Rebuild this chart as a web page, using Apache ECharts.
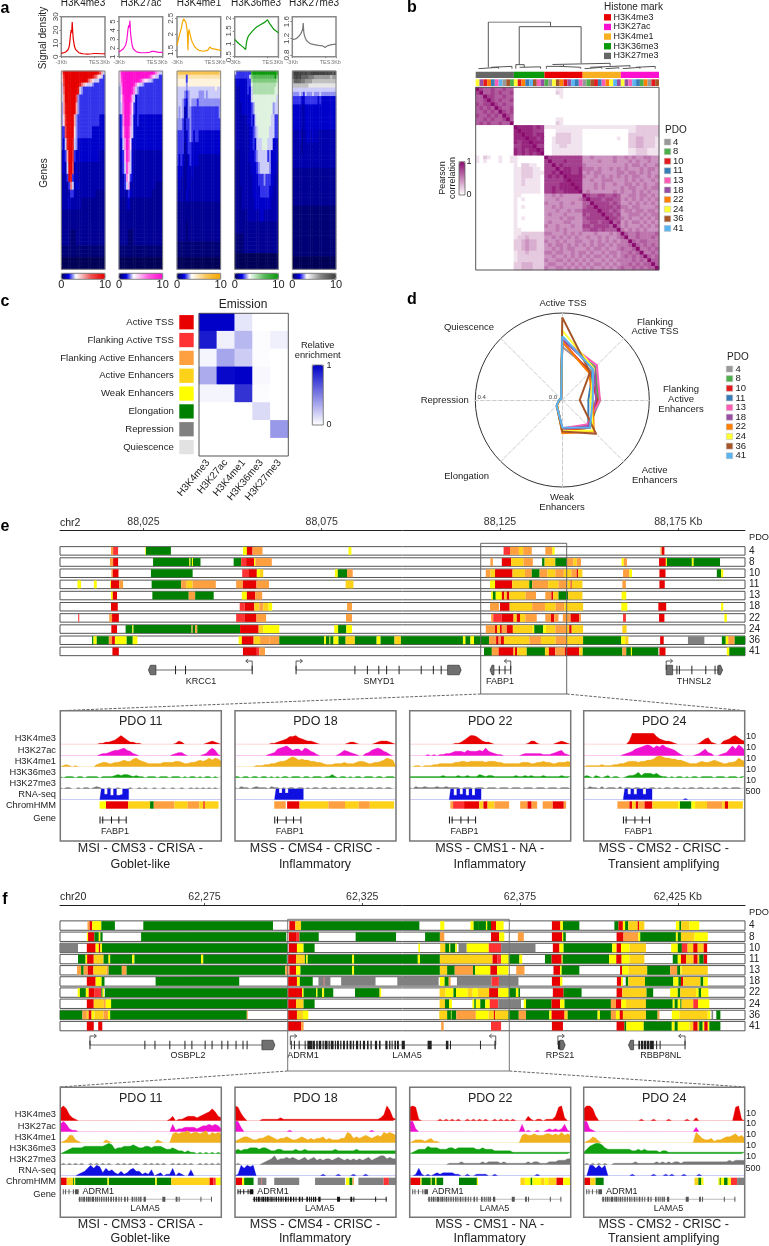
<!DOCTYPE html>
<html><head><meta charset="utf-8">
<style>html,body{margin:0;padding:0;background:#fff}#c{width:769px;height:1246px}</style>
<script src="https://cdn.jsdelivr.net/npm/echarts@6/dist/echarts.min.js"></script>
</head><body><div id="c"></div>
<script>
// ---------- Panel a ----------
const marks=['H3K4me3','H3K27ac','H3K4me1','H3K36me3','H3K27me3'];
const markColors=['#e60000','#ff10d0','#f5a800','#0a9a0a','#404040'];
const profileX=[0,2,4,5,6,7,7.5,8,8.5,9,9.5,10,10.5,11,12,13,14,16,18,20,24,28,30,32,36,40];
const profileK4me3=[2.5,3,3.5,4,5,7,9,13,17,20,18,26,18,13,8,5.5,4,3,2.5,2.2,2,2.2,2.4,2.4,2.2,2.2];
const profileK27ac=[1.55,1.7,1.9,2,2.3,2.8,3.3,3.9,4.3,4.6,4.3,5.1,3.8,3.2,2.3,1.9,1.7,1.55,1.5,1.45,1.45,1.5,1.6,1.6,1.5,1.5];
const profileK4me1=[1.65,1.95,2.2,2.38,2.48,2.5,2.45,2.38,2.3,2.2,2.05,1.5,2.05,2.15,2.0,1.85,1.75,1.62,1.55,1.5,1.47,1.5,1.6,1.55,1.53,1.5];
const profileK36me3=[1.17,1.08,1.0,.97,.93,.9,.88,.86,.84,.82,.8,.78,.95,1.1,1.25,1.33,1.38,1.48,1.57,1.65,1.75,1.85,1.93,1.78,1.55,1.43];
const profileK27me3=[1.17,1.18,1.2,1.22,1.25,1.28,1.3,1.32,1.35,1.38,1.42,1.57,1.35,1.28,1.2,1.15,1.12,1.08,1.06,1.05,1.03,1.02,.98,1.02,1.05,1.06];
const profileTicks=[[0,10,20,30],[1,2,3,4,5],[1.5,2,2.5],[.5,1,1.5,2],[.8,1.2,1.6]];
const profileRange=[[0,30],[1,5.55],[1.3,2.55],[.5,2.05],[.76,1.72]];
// rows of the gene heatmaps: [row count, one digit per column]; x,y,z,w are steps between 0, 1, 2 and 3
const heatK4me3=[[1,"59aaaaaaaaaaaaaaaaaa9753"],[1,"48aaaaaaaaaaaaaaa9764432"],[1,"47aaaaaaaaaaaa9654333222"],[1,"37aaaaaaaa9654333w222222"],[2,"36aaaaaaa93w222222222222"],[2,"35aaaaaa7w22222222222222"],[3,"w59aaaaa5w22222222222222"],[3,"w48aaaa5w222222222222zzz"],[3,"227aaaa4w22222222zzzzzzz"],[3,"2z39aa93wzzzzzzzzzzzzzzz"],[3,"zz25aa82zzzzzzzzzzzzz111"],[3,"zz13aa71z111111111111111"],[2,"1112a921z111111111111111"],[2,"11112631zz11111111111111"],[2,"1111122111111111111yyyyy"],[3,"1111z111111yyyyyyyyyyyyy"],[5,"yyyyyyyyyyyyyyyyyyyyyyyy"],[4,"yyyyyxxxyyyyyyyyyyyyyyyy"],[3,"xxxxxxxxxxxxxxxxxxxxxxxx"],[3,"000000000000000000000000"]];
const heatK27ac=[[1,"49aaaaaaaaaaaaaaaaa96533"],[1,"48aaaaaaaaaaaaaa97543322"],[1,"47aaaaaaaaa9754433w22222"],[1,"36aaaaaa96433w2222222222"],[2,"w5aaaaa963w2222222222222"],[2,"w48aaa953z22222222222222"],[3,"w37aaa742z22222222222222"],[3,"z26aaa63zz2zzzzzzzzzzzzz"],[3,"z259a953zzzzzzzzzzzzzzzz"],[3,"zz36a84zzzzzzzzzzzzzzzzz"],[3,"1z25973z1111111111111111"],[3,"1123853z1111111111111111"],[2,"1112642z1111111111111111"],[2,"11123511111111111111yyyy"],[2,"111112z11111111111yyyyyy"],[3,"1yyy1zyyyyyyyyyyyyyyyyyy"],[5,"yyyyyyyyyyyyyyyyyyyyyyyy"],[4,"yyyyyxxxyyyyyyyyyyyyyyyy"],[3,"xxxxxxxxxxxxxxxxxxxxxxxx"],[3,"000000000000000000000000"]];
const heatK4me1=[[1,"677777777777777777777776"],[1,"555552555555555555555555"],[1,"444442444444444444444444"],[1,"44444w444444444444444444"],[1,"33333w333333333333333433"],[2,"3333w2w33333www3w3333333"],[2,"333w2zw3www2wwwwwwwwwwww"],[3,"3w3w1zww222222222222222w"],[3,"www2122w2222222222222222"],[3,"22221z2w2z22zzzzzzzzzzzz"],[3,"2222yz22zzzzzzzzzzzzzzzz"],[3,"2z2z1yz2zzzz111111111111"],[3,"zzz1y1z1z111111111111111"],[3,"1z11y1z11111111111111111"],[3,"1111yz111111111111111111"],[5,"yyyyyyyyyyyyyyyyyyyyyyyy"],[5,"yyyyyxyyyyyyyyyyyyyyyyyy"],[4,"xxxxxxxxxxxxxxxxxxxxxxxx"],[3,"000000000000000000000000"]];
const heatK36me3=[[1,"3222222228aaaaaaaaaaaaa8"],[1,"2222222236777777777777a6"],[1,"1zzzzzz22566666666666665"],[1,"1zzzzzz22455555555555554"],[2,"111zzzz2z355555555555544"],[2,"111zzzzzz344444444444443"],[3,"1111zzzzz2w4444444444w33"],[3,"1111111zz2z3444444443322"],[3,"11111111zz2w344444433322"],[3,"11111111zz2z333444333zzz"],[3,"yyy11111zzz2w333332wzzzz"],[3,"yyy111111zzz2w33333wzzz1"],[3,"yyy1111111zzz222w222zz11"],[3,"yyyy111111zzzz22222zz111"],[3,"yyyy1111111zzzzzzzzz1111"],[3,"yyyyyyy1111111zz11111111"],[3,"yyyyyyyyyyyyyyyyyyyyyyyy"],[5,"xxxxxyyyyyyyyyyyyyyyyyyy"],[4,"000000000000000000000000"]];
const heatK27me3=[[1,"8aaaaa9a99aaaaaaaa9a9a8a"],[1,"89a9a8888777666666666566"],[1,"688887766665555555555555"],[1,"555555555444444444444444"],[1,"333333333333333333333333"],[1,"wwww3w23www3www3wwwwwwww"],[2,"22222zz2222222z2zzzzzzzz"],[3,"zzzzz11zzzzzzzzzzzzzzzzz"],[3,"zzzzz11zzzzzzzzzzzzzzzzz"],[3,"1111zy11zz1z1z1111111111"],[3,"11111y111111111111111111"],[3,"111111111111111111111111"],[4,"yyyyyyyyyyyyyyyyyyyyyyyy"],[5,"yyyyyyyyyyyyyyyyyyyyyyyy"],[6,"xxxxxxxxxxxxxxxxxxxxxxxx"],[6,"xxxxxxxxxxxxxxxxxxxxxxxx"],[3,"000000000000000000000000"]];

// ---------- Panel b ----------
const pdos=['4','8','10','11','13','18','22','24','36','41'];
const pdoColors=['#999999','#4daf4a','#e41a1c','#377eb8','#ff5cb5','#984ea3','#ff7f00','#ffff33','#a65628','#5ab4f0'];
const histoneSizes=[10,8,10,10,10];
const histoneOrder=[4,3,0,2,1];
const pdoOrder=['24','18','10','22','11','13','41','4','36','8','24','10','22','11','41','36','13','18','8','4','24','36','22','10','18','41','11','13','4','8','36','10','11','13','22','24','41','18','24','18','13','41','11','8','22','4','10','36'];
const correlation=[
"9766766766 00000000 0001100000 0000000000 0000000000",
"7966767667 00000000 0002100000 0000000000 0000000000",
"6697766766 00000000 0000100000 0000000000 0000000000",
"6679767667 00000000 0000000000 0000000000 0000000000",
"7677976766 00000000 0000000000 0000000000 0000000000",
"6767697667 00000000 0000000000 0000000000 0000000000",
"6676769767 00000000 0000000000 0000000000 0000000000",
"7667676976 00000000 0000000000 0000000000 0000000000",
"6676766796 00000000 0001100000 0000000000 0000000000",
"6767667669 00000000 0002100000 0000000000 0000000000",
"0000000000 98888787 1111111111 1111111111 1111222222",
"0000000000 89888777 0001111111 0000000000 0011222222",
"0000000000 88988788 0002222111 0000000000 0022222222",
"0000000000 88898878 0012222111 0000000001 0022332221",
"0000000000 87889888 0012222111 0000000000 0022332221",
"0000000000 77888977 0011221111 0000000000 0022332221",
"0000000000 87878898 0011111111 0000000000 0011222111",
"0000000000 87878789 0011111111 0000000000 0011222111",
"1021001001 10000000 9777777777 4454444454 4545445544",
"1010001001 10000000 7977787777 4444544454 4454544544",
"0000000000 10221100 7797877777 5444444444 4545545445",
"0000000000 11222110 7779788778 5554544545 4544454554",
"0000000000 11222111 7787988778 4545544445 5455454544",
"0000000000 11222110 7878798888 5445454545 4545544545",
"0000000000 11211110 7777789888 4454455544 4545454454",
"0000000000 11211110 7777888988 4445454454 4554545445",
"0000000000 11111110 7787888898 4445454444 5455445455",
"0000000000 11111110 7787788889 4544444454 5445454544",
"0000000000 11000000 4454544444 9766776676 4455455454",
"0000000000 10100000 4445444445 7977767766 4545454545",
"0000000000 10000000 5444544544 6697777676 4454545454",
"0000000000 10100000 4454544444 6779777767 5545544445",
"0000000000 10000000 4445445455 7777977676 4554554554",
"0000000000 10000000 4544454444 7677797767 4455545455",
"0000000000 10100000 4444545544 6777779776 5454454545",
"0000000000 10000000 4544455444 6677677967 4545545454",
"0000000000 10000000 5445444544 7767777696 4544454545",
"0000000000 11000000 4445454444 6677676669 5454545444",
"0000000000 11222222 5544454545 4445444545 9655655556",
"0000000000 12232222 4454545454 4544545445 6955655565",
"0000000000 22343322 5445454455 4454545454 5596566555",
"0000000000 22343322 4545545454 5454554545 5569656565",
"0000000000 22343322 4454545544 4545545445 6556955656",
"0000000000 12232222 5545544545 5454454554 5565695565",
"0000000000 12222222 4454454545 4545545454 5656569656",
"0000000000 12222222 5445545454 5454454545 5556565966",
"0000000000 22333222 4554454545 4545545454 5565656696",
"0000000000 22333222 5445545454 5454454545 6556565669"];
const dendrogram=[[3.3,.03],[3.3,1],[19.6,1],[19.6,.9],null,[11.4,.08],[11.4,.9],[27.6,.9],[27.6,.116],null,[20.1,.09],[20.1,.116],[35.2,.116],[35.2,.065],null,[30,.03],[30,.065],[40.4,.065],[40.4,.03],null,[.7,0],[.7,.03],[6,.03],[6,0],null,[4,.03],[4,.05],[9.5,.05],[9.5,0],null,[10.5,0],[10.5,.087],[12.7,.087],[12.7,.03],null,[11.5,.03],[11.5,.04],[17,.04],[17,0],null,[18.5,0],[18.5,.05],[23,.05],[23,.09],null,[22,.05],[22,.03],[27.5,.03],[27.5,0],null,[28.5,0],[28.5,.03],[33,.03],[33,0],null,[34,0],[34,.02],[37.5,.02],[37.5,0],null,[38.5,0],[38.5,.03],[43,.03],[43,0],null,[42,.03],[42,.05],[47,.05],[47,0]];

// ---------- Panel c ----------
const stateNames=['Active TSS','Flanking Active TSS','Flanking Active Enhancers','Active Enhancers','Weak Enhancers','Elongation','Repression','Quiescence'];
const stateColors=['#e80000','#ff3333','#ffa040','#ffd21a','#ffff00','#008000','#808080','#e2e2e2'];
const emission=[[1,1,.1,0,0],[.9,.06,.28,.01,.06],[.04,.35,.2,.01,0],[.33,.97,1,.03,0],[.04,.04,.8,.01,0],[0,0,0,.14,0],[0,0,0,0,.4],[0,0,0,0,0]];

// ---------- Panel d (order: Active TSS, Flanking TSS, Flanking Enh., Active Enh., Weak Enh., Elongation, Repression, Quiescence) ----------
const radarAxes=['Active TSS','Flanking Active TSS','Flanking Active Enhancers','Active Enhancers','Weak Enhancers','Elongation','Repression','Quiescence'];
const radar4=[.245,.19,.175,.17,.135,.035,.014,.008];
const radar8=[.276,.215,.165,.18,.14,.035,.014,.008];
const radar10=[.268,.18,.16,.18,.14,.035,.014,.008];
const radar11=[.29,.2,.12,.169,.13,.035,.014,.008];
const radar13=[.28,.225,.173,.16,.13,.035,.014,.008];
const radar18=[.276,.21,.155,.17,.135,.035,.014,.008];
const radar22=[.268,.175,.14,.205,.153,.035,.014,.008];
const radar24=[.319,.205,.13,.2,.14,.035,.014,.008];
const radar36=[.38,.18,.08,.219,.145,.037,.014,.008];
const radar41=[.294,.2,.14,.18,.126,.037,.016,.008];
const radarSeries=[radar4,radar8,radar10,radar11,radar13,radar18,radar22,radar24,radar36,radar41];

// ---------- Panels e, f: ChromHMM segments, kb (e: minus 88,000; f: minus 62,200). R F O Y L G K = states 0..6 ----------
const eRow4="15.9 16.5 O,16.5 17.9 F,25.5 25.7 L,25.7 32.7 G,52.9 54 L,54 55.6 R,55.6 58.4 O,82.5 83.3 L,126 127.8 F,127.8 130.3 O,130.3 131.5 Y,131.5 133.9 O,137.7 139.7 O,139.7 140.3 L,170 170.4 O,170.4 171.1 R";
const eRow8="15.6 16.5 O,16.5 17.9 R,27.7 37.9 G,37.9 38.2 L,38.2 38.6 G,38.6 38.9 L,38.9 41 G,50.3 52.4 G,52.4 53.8 F,53.8 56 R,56 56.4 L,56.4 61 O,122.3 123 O,125.5 128.1 R,128.1 131.6 Y,131.6 134.2 O,136.8 137.5 G,137.5 140.5 Y,140.5 143.8 G,143.8 145.6 O,145.6 146.5 Y,146.5 147.7 O,159.1 159.7 L,159.7 160.6 O,169.6 171.5 R,171.5 171.8 L,171.8 178.8 G,178.8 179.3 L,179.3 186.7 G";
const eRow10="16 16.4 O,16.4 18 R,27.1 38.8 G,52.7 54.4 F,54.4 56.8 R,56.8 57.7 L,57.7 58.6 Y,78.7 79.5 L,79.5 82.1 G,82.1 83.7 O,121 122.3 O,122.3 123.6 Y,123.6 128.5 R,128.5 132 Y,132 133.9 O,133.9 136.1 G,136.1 138.3 O,138.3 140.5 Y,140.5 142.9 O,142.9 145 Y,145 146.5 O,146.5 146.9 R,146.9 148.1 Y,159.5 161.3 O,161.3 162 L,169.7 171.4 R,185.8 187 G,187 187.6 L";
const eRow11="6.5 7.5 L,11.1 11.9 L,15.7 15.9 L,15.9 18.2 R,18.2 19.3 O,27.3 35.6 G,35.6 37.1 O,37.1 38.8 Y,38.8 45.3 O,51 52.9 O,52.9 56.7 R,56.7 60.2 O,81.7 83.9 Y,122.2 123.6 L,123.6 128.4 R,128.4 133.2 Y,133.2 134 G,134 138.5 O,138.5 141.4 Y,141.4 143.9 O,143.9 144.8 Y,144.8 145.1 R,145.1 148.1 Y,159.3 160.3 O,169.7 171.2 R";
const eRow13="15.9 16.4 L,16.4 17.6 R,27.5 37.7 G,37.7 39.5 O,39.5 44.7 G,52.6 54 L,54 56.3 R,56.3 58.3 O,122.5 123 L,123 123.8 G,123.8 125.5 L,125.5 126.2 R,126.2 126.9 Y,126.9 127.6 R,127.6 132.2 Y,132.2 135.1 O,137.7 139.4 O,139.4 139.9 R,139.9 141.4 Y,141.4 144.1 G,144.1 148.1 Y,159.1 160.4 L";
const eRow18="15.9 17.8 R,52 53.4 F,53.4 56.1 R,56.1 57.5 Y,57.5 58.6 O,58.6 60.1 Y,60.1 61.1 L,82.1 83.5 O,122.2 124.7 O,125 127.7 R,127.7 134 Y,134 137.6 O,137.6 140.6 Y,140.6 143 O,143 148.3 Y,159 160.7 L,169.4 171.6 R,187 187.6 L";
const eRow22="6.7 7 F,15.4 16.2 O,16.2 18.1 R,51 53.3 F,53.3 56.7 R,56.7 59.4 O,81.8 83.5 O,122.5 123.1 O,123.1 125.5 F,125.5 128.8 R,128.8 129.7 Y,129.7 130.6 R,130.6 132.1 Y,132.1 135.3 O,137.7 139.3 O,139.3 140.2 R,140.2 141.4 O,142.6 144.8 O,144.8 147.2 R,147.2 147.7 O,159.5 160.3 F,169.6 171.1 R,187.9 188.6 L";
const eRow24="16 17.6 R,20 21.9 G,21.9 22.2 L,22.2 38.5 G,38.5 38.8 O,38.8 39.5 G,39.5 40.1 O,40.1 52.1 G,52.1 57.3 R,57.3 58.6 Y,58.6 63.1 L,78.5 79.6 L,79.6 81.9 G,81.9 83.5 L,121 123.6 O,123.6 124.2 R,124.2 125 Y,125 125.5 R,125.5 126.9 O,126.9 128.6 R,128.6 134.2 Y,134.2 134.6 L,134.6 137.1 G,137.1 137.9 L,137.9 140.5 Y,140.5 143.8 O,143.8 144.4 Y,144.4 145.1 R,145.1 148.3 Y,159.3 160.5 Y";
const eRow36="10.6 11 G,11 11.9 L,11.9 15.3 G,15.3 16.2 O,16.2 17 R,17 20.3 L,20.3 22 G,22 23.3 L,51.7 52.6 L,52.6 55.9 R,55.9 57.7 Y,57.7 60.3 O,60.3 63.1 O,63.1 75.7 G,75.7 76.2 L,76.2 77.2 G,77.2 77.4 L,77.4 78.3 G,78.3 79.7 L,79.7 81.7 G,81.7 84.3 Y,84.3 90.4 G,90.4 91.5 L,91.5 95.4 G,95.4 97.2 Y,97.2 114.6 G,114.6 115.3 L,115.3 116.7 G,116.7 117.7 L,117.7 121.9 G,121.9 123.9 O,123.9 124.6 R,124.6 125.2 O,125.2 126.1 R,126.1 133.2 Y,133.2 136.5 O,136.5 140.6 Y,140.6 143.7 O,143.7 148.3 Y,148.3 159 G,159 160.1 L,160.1 161 Y,169.9 170.9 R,177.7 182.3 K,187.2 188.3 G,188.3 189 L,189 190.8 O,190.8 193.7 G";
const eRow41="16.3 18.1 R,52.9 56.8 R,56.8 57.5 F,57.5 59.1 O,120.5 122.7 G,122.7 124.6 O,124.6 128.8 R,128.8 129.2 Y,129.2 129.8 R,129.8 132.5 Y,132.5 137.6 G,137.6 138.7 Y,138.7 140.5 R,140.5 143.2 O,143.2 147.2 R,147.2 148.2 Y,148.2 159.3 G,159.3 160.4 O,160.4 161.7 G,161.7 162 L,162 169.4 G,169.7 171.4 R,188.6 189.3 L,189.3 193.7 G";
const fRow4="37.9 38.6 O,38.6 39.4 R,39.4 42.3 L,42.3 46.6 G,55.6 96.7 G,101.9 103.8 R,103.8 105.6 Y,105.6 143.1 G,149.7 151 L,159.3 160.3 L,160.3 161.7 G,161.7 164.2 G,164.2 164.6 L,164.6 165.8 G,165.8 167.4 R,167.4 169.8 L,185.1 187.8 R,187.8 188.6 L,188.6 193.8 G,204.9 206.2 G,206.2 207.6 R,207.6 208.3 L,208.3 209.3 G,209.3 212.3 Y,212.3 212.7 R,212.7 214.4 Y,224.4 225.5 L,225.5 226.1 G,226.1 228.7 Y,228.7 231.8 L";
const fRow8="37.7 38.1 L,38.1 40.1 R,40.1 41.5 G,41.5 42 L,42 42.7 G,54.9 100.9 G,101.7 104 R,104 105.1 F,105.1 111.2 G,122.9 135.7 G,144.9 149.6 G,149.6 151 O,165.8 168.4 R,168.4 170 L,174.3 176.2 O,185.1 188.3 R,188.3 188.7 L,188.7 189.5 G,205.6 207.8 R,207.8 212.5 O,212.5 213.1 L,213.1 224.4 G,224.4 225 L,225 226 G,226 230.3 Y,230.3 234.5 L";
const fRow10="29.2 34.9 K,37.7 40.5 R,40.5 41.5 L,41.5 42 R,42 42.5 L,42.5 101.4 G,101.7 104.3 R,104.3 106.4 L,106.4 109.9 G,142.8 143.3 L,149.7 151.3 Y,151.3 152.6 G,152.6 152.9 L,152.9 154.5 G,154.5 155 L,155.5 158.1 K,158.1 165.1 L,165.1 169 F,169 179.9 K,185.4 187.5 R,187.5 188.8 L,188.8 204.2 G,204.2 205.6 L,205.6 207 R,207 209.7 L,209.7 214.9 Y,222.9 225 L,225 226.3 G,226.3 228.1 F,228.1 229.9 Y,229.9 231.3 R,231.3 233.2 Y,233.2 234.3 R";
const fRow11="34.9 37.3 G,37.3 37.8 L,37.8 39.9 R,39.9 43 Y,43 44.6 G,44.6 45.1 L,45.1 52.1 G,52.1 52.8 L,52.8 73.9 G,73.9 74.6 L,74.6 101.1 G,101.5 104 R,104 106.8 Y,106.8 107.2 G,107.2 107.7 L,107.7 121.8 G,121.8 122.4 L,122.4 142.6 G,142.6 143.3 L,143.3 149.6 G,149.6 166.3 Y,166.3 167.9 R,167.9 169 F,169 171.4 L,171.4 174.8 G,174.8 175.7 L,182.9 185 G,185 188.2 R,188.2 188.5 L,188.5 203.2 G,203.2 205.5 L,205.5 207.2 R,207.2 209.7 L,209.7 214.4 Y,223.4 225 G,225 226 L,226 227.6 R,227.6 230 Y,230 231.3 R,231.3 231.8 Y,231.8 233.2 G,233.2 234.3 R";
const fRow13="34.6 35.9 O,35.9 36.7 G,36.7 38 O,38 39.8 R,39.8 44 Y,44 44.6 O,44.6 48.8 G,48.8 50.3 O,50.3 100.6 G,100.6 101.7 O,101.9 104 R,104 105.4 L,105.4 121.8 G,121.8 122.4 L,122.4 149.6 G,149.6 151.9 Y,151.9 154.3 G,154.3 160.1 O,160.1 160.8 G,160.8 165.6 L,165.6 167.7 R,167.7 171.3 L,173.8 176.4 O,185.6 187.7 R,187.7 188.2 L,188.2 193.8 G,206.7 207.4 R,207.4 209.4 L,209.4 215.3 Y,215.3 222.6 G,222.6 224.8 O,224.8 225.8 G,225.8 226.2 L,226.2 234.5 Y";
const fRow18="37.7 40.5 R,40.5 42.4 L,42.4 43.3 G,59.5 86 G,101.5 104.3 R,104.3 105.2 L,105.2 109.3 G,111.1 112.8 K,112.8 113 F,113 114.9 K,118.3 129.2 K,136.1 149.2 K,149.6 151.1 L,151.1 152.4 G,152.4 153 O,155 166 K,166 168.3 F,168.3 174.5 K,185.1 187.7 R,187.7 188.4 L,205.7 207 R,207 207.6 L,208.5 209.3 G,209.3 214.6 Y,214.6 223.6 G,223.6 225.2 L,225.2 226 G,226 226.7 R,226.7 232.2 Y,232.2 233.1 G,233.1 234.5 L";
const fRow22="34.8 35.5 L,35.5 37.4 G,37.4 38.3 L,38.3 40 R,40 42.3 F,42.3 42.7 G,42.7 43.1 L,43.4 101.4 G,101.5 105.9 R,105.9 106.4 L,106.4 110.4 G,110.4 110.8 L,110.8 112.3 G,112.3 112.9 L,112.9 115.8 G,122.7 130.5 G,130.5 131 L,149.5 151.4 Y,151.4 153.9 L,153.9 154.7 G,154.7 158.4 L,158.4 160 Y,160 161.6 L,161.6 165.2 Y,165.2 168.1 R,168.1 171.4 L,171.4 173.7 G,173.7 174.5 L,174.5 175 G,185.4 188.8 R,188.8 194.5 G,205.6 207.4 R,207.4 215.1 Y,215.1 217.2 G,222.6 225 L,225 225.8 G,225.8 230.8 Y,230.8 231.6 L,231.6 232.4 G,232.4 234.7 L";
const fRow24="37.7 39.9 R,39.9 43.1 Y,43.1 43.7 O,43.7 45.4 L,45.4 101.4 G,101.5 104 R,104 106.4 Y,106.4 109.9 G,149.5 151.2 Y,151.2 152.5 G,152.5 153.4 L,159.9 160.5 L,160.5 161 G,161 162.4 L,162.4 164 G,164 165.4 L,165.4 168.1 F,168.1 175.3 K,176.2 176.9 L,176.9 185 G,185 187.7 R,187.7 189.1 L,189.1 203.8 G,203.8 205.4 O,205.4 207.1 R,207.1 208.6 L,208.6 214.9 Y,214.9 223.4 G,223.4 224 L,224 225 G,225 225.8 L,225.8 226.2 G,226.2 229.9 Y,229.9 231.4 F,231.4 235 L";
const fRow36="29.2 36.3 G,36.3 37.7 O,37.7 38.3 Y,38.3 39.2 R,39.2 40.1 L,40.1 43 Y,43 44.4 O,44.4 45.1 L,45.1 88.4 G,88.4 88.7 O,101.5 104.3 R,104.3 106.2 Y,106.2 107.9 L,149.4 151.9 Y,151.9 153.1 G,153.1 153.3 L,153.3 154.8 G,154.8 161 O,161 165 L,165 166.7 Y,166.7 167.1 R,167.1 171.3 Y,171.3 174.6 G,174.6 176.9 O,176.9 184.3 G,184.3 185 L,185 189.1 R,189.1 190.1 Y,190.1 199.6 G,199.6 200.3 L,200.3 203.8 G,203.8 205.4 O,205.4 206.6 L,206.6 207.6 R,207.6 214.9 Y,214.9 218.6 G,218.6 219.2 O,223.1 225.5 L,225.5 234.5 Y,234.5 235.3 L,235.7 236.2 K,237.2 238.5 G";
const fRow41="37.7 39.9 R,41.3 42.6 R,101.5 105.6 R,105.6 106.4 O,150 150.8 O,165.8 169 F,185.1 188.6 R,205.6 208.1 R,208.1 208.7 G,208.7 214.2 L,214.2 223.1 G,223.1 224 L,224 225 G,225 226 L,226 228.7 L,228.7 229.9 Y,229.9 231.3 R,231.3 231.8 Y,231.8 232.9 G,232.9 233.4 L,233.4 234.5 R,234.5 235 L,235 238.5 G";
const eRows=[eRow4,eRow8,eRow10,eRow11,eRow13,eRow18,eRow22,eRow24,eRow36,eRow41];
const fRows=[fRow4,fRow8,fRow10,fRow11,fRow13,fRow18,fRow22,fRow24,fRow36,fRow41];
const eTicks=[25,75,125,175], fTicks=[75,125,175,225];

const genesE=[
 {start:27.5,end:55.5,exons:[34,36.8,55.5],boxes:[[26.4,28.5,-1]],tss:55.5,dir:-1},
 {start:67.8,end:111,exons:[67.8,84.3,87.8,91,93.2,96.7,102.9,106.3,108.5],boxes:[[110.3,114.1,1]],tss:67.8,dir:1},
 {start:122.6,end:128,exons:[122.9,124.8,126.4,128],boxes:[[122.2,123.3,-1]],tss:128,dir:-1},
 {start:171.6,end:187.4,exons:[174.6,175.3,178.8,182.7,185.3,186.1],boxes:[[171.6,173.4,0],[186.3,187.4,1]],tss:171.6,dir:1}];
const genesF=[
 {start:38.7,end:93.2,exons:[38.7,56.1,59.3,64,68.8,71,75.2,77.4,80.5,82.4,85,87.2,88.5],boxes:[[93.2,97.3,1]],tss:38.7,dir:1,lane:.5},
 {start:102.5,end:109.2,exons:[102.5,103.5,105,106.9,[107.6,109.2]],boxes:[],tss:102.2,dir:1,lane:.75},
 {start:108.9,end:167.3,exons:[[109.3,110],[110.4,110.9],[111.2,112],[112.4,112.8],[113.1,114],[114.3,114.7],[115,115.9],[116.3,116.7],[117,117.6],[118,118.4],[118.9,119.5],[120,120.5],[121,121.6],[122,122.4],[123,123.7],[124.2,124.6],[125.2,125.9],[126.5,127],[127.6,128],[129,129.7],[130.3,130.8],[132.3,133],[133.5,133.9],[134.3,134.6],[135.2,135.7],[136,136.6],[137.5,138.5],[145.7,147],[151.5,152.3],[152.8,153.1],[162.3,162.5],[166.9,167.3]],boxes:[],tss:167.3,dir:-1,lane:.25},
 {start:187.2,end:189.3,exons:[[187,187.8]],boxes:[[187.6,189.3,1]],tss:187,dir:1,lane:.5},
 {start:209.4,end:227.3,exons:[[212.5,213],[213.3,214],[214.2,215],[215.2,216],[216.2,217.4],218.3,219.4,227.3],boxes:[[209.4,211,-1]],tss:227.3,dir:-1,lane:.5}];

// ---------- Insets: signal per bin (6 chunks of 9 bins), 0..a ----------
const e11=["000000000 000011223 468642211 000000000 001320000 000123210","000000000 000012234 556754210 000000000 012331000 001257510","012101000 000234433 445655786 543333344 445543344 565686875","101110110 111101111 232332121 101110111 011101011 010110101","101100101 101210010 010001001 010010010 010010010 101010101","000000000 00000a5a4 a45aa0000 000000000 000000000 000000000"];
const e18=["000000000 000112345 778654332 100000000 012210000 012333210","000000000 001236789 756647643 100000013 543210023 567643100","000000011 122334556 898676655 443222333 433345543 344568760","110110110 110101011 011101101 110113101 101011011 101101110","102110121 110211010 110110101 101101101 101101101 101101101","000000000 00000a6a6 aaaaa0000 000000000 000000000 000000000"];
const e22=["000000000 000000112 468875322 100000000 000133100 000123210","000000101 011223444 354445474 321100000 012222221 112345210","001101112 233333445 545555545 554433333 344433445 443344454","111111111 112111121 121113212 211111112 112121112 111112111","102112111 211211110 111011101 110111011 101110111 011101110","000000000 00000a4a5 a4a4aa000 000000000 000000000 000000000"];
const e24=["000000000 0000003aa aaaaaa754 332100000 001356210 034578643","000000000 000012346 789a9798a 876531000 012463200 123696a85","011111211 122334555 4556679a9 887766543 334544565 433445865","121021012 011001223 524443421 101011010 110111101 110111011","102110201 110201101 101011010 110110101 101101011 011011101","000000000 00000a5a5 aa5aa0000 000000100 000000000 000000000"];
const f11=["8a8421000 000000000 000000000 000000000 130112333 234568632","575211000 000000000 000000000 000000000 051223333 234454542","012552100 000000210 000000000 000002100 067677867 767857676","012344445 555555676 344555654 455455543 343221211 010101010","010101010 010101010 010101010 010101010 010101010 010101010","000000123 575762534 213124533 121401201 150210040 000000000"];
const f18=["a95200000 111111211 111111111 111111111 111111111 11124a721","773000000 000000000 100000000 000000000 000000000 100000000","123443223 345432334 322343232 334232223 376343454 345476765","232334443 443223322 223223222 222222322 222232222 222222222","010000000 123463445 454345345 343443454 343434345 345664544","017576700 000000000 000000000 001000010 000100010 000000000"];
const f22=["9a9100000 010101010 010101010 010101010 000310110 11139a200","772000000 000000000 000000000 000000000 050100100 121212510","012221231 100000000 000000000 000000000 056556555 665657565","012333544 433344344 444433433 322222211 111111111 111111111","000000000 000011112 111111212 222121111 111212211 122233344","001510101 212222110 010011110 010000000 000000100 000000000"];
const f24=["8aa830000 000000000 010001000 010000010 020000000 000009a10","772100000 000000000 000000000 000000000 030000000 000000000","012431000 000000000 000000000 000000000 075322312 234456453","135677643 333333322 323222212 211111111 111111111 111111111","010101010 011111112 111111212 121221222 222222222 222323333","007757570 000000010 000001000 101000100 001000000 000000000"];
const trackNames=['H3K4me3','H3K27ac','H3K4me1','H3K36me3','H3K27me3','RNA-seq','ChromHMM','Gene'];
const trackColors=['#e80000','#f010d0','#f0b020','#10a010','#777777','#1010e0'];
const eCaptions=[['MSI - CMS3 - CRISA -','Goblet-like'],['MSS - CMS4 - CRISC -','Inflammatory'],['MSS - CMS1 - NA -','Inflammatory'],['MSS - CMS2 - CRISC -','Transient amplifying']];

// ---------- helpers ----------
const FONT='"Liberation Sans",Arial,sans-serif';
const grid=[],xAxis=[],yAxis=[],series=[],visualMap=[],gfx=[];
function addGrid(l,t,w,h,xa,ya,extra){grid.push(Object.assign({left:l,top:t,width:w,height:h,containLabel:false},extra||{}));const i=grid.length-1;xAxis.push(Object.assign({gridIndex:i},xa));yAxis.push(Object.assign({gridIndex:i},ya));return i;}
const T=(text,x,y,o)=>{o=o||{};gfx.push({type:'text',x,y,z:100,silent:true,rotation:o.rot||0,style:{text,fontSize:o.size||9,fontFamily:FONT,fontWeight:o.bold?'bold':'normal',fill:o.fill||'#222',align:o.align||'center',verticalAlign:'middle'}});};
const R=(x,y,w,h,fill,stroke,lw)=>gfx.push({type:'rect',z:100,silent:true,shape:{x,y,width:w,height:h},style:{fill:fill||'none',stroke:stroke||null,lineWidth:lw||1}});
const L=(x1,y1,x2,y2,stroke,dash,lw)=>gfx.push({type:'line',z:100,silent:true,shape:{x1,y1,x2,y2},style:{stroke,lineWidth:lw||1,lineDash:dash||null}});
const idx=n=>Array.from({length:n},(_,i)=>i);
function hexMix(c,t){const n=parseInt(c.slice(1),16),r=n>>16,g=(n>>8)&255,b=n&255,m=v=>Math.round(255+(v-255)*t);return `rgb(${m(r)},${m(g)},${m(b)})`;}
const low={x:.35,y:.7,z:1.35,w:2.6};
const STATE_IDX={R:0,F:1,O:2,Y:3,L:4,G:5,K:6};
const parseSegs=(s,row)=>s.split(',').map(p=>{const a=p.split(' ');return [+a[0],+a[1],row,STATE_IDX[a[2]]];});
const clip=(segs,a,b)=>segs.filter(s=>s[1]>a&&s[0]<b).map(s=>[Math.max(s[0],a),Math.min(s[1],b),s[2],s[3]]);
const segRender=ratio=>(p,api)=>{const a=api.coord([api.value(0),api.value(2)]),b=api.coord([api.value(1),api.value(2)]),h=api.size([0,1])[1]*ratio;return {type:'rect',shape:{x:a[0],y:a[1]-h/2,width:Math.max(b[0]-a[0],.7),height:h},style:{fill:stateColors[api.value(3)]}};};
const frameRender=ratio=>(p,api)=>{const a=api.coord([api.value(0),api.value(2)]),b=api.coord([api.value(1),api.value(2)]),h=api.size([0,1])[1]*ratio;return {type:'rect',shape:{x:a[0],y:a[1]-h/2,width:b[0]-a[0],height:h},style:{fill:'#fff',stroke:'#555',lineWidth:1}};};
const customEnc={x:[0,1],y:2};

// ---------- Panel a ----------
const aLefts=[61.3,119,177,234.7,292.3],aW=43.7;
const profiles=[profileK4me3,profileK27ac,profileK4me1,profileK36me3,profileK27me3];
const heats=[heatK4me3,heatK27ac,heatK4me1,heatK36me3,heatK27me3];
const aCenters=[83,141,199,256,314];
marks.forEach((m,k)=>{
 T(m,aCenters[k],3.5,{size:10});
 const lab={0:'-3Kb',10:'TSS',30:'TES',40:'3Kb'};
 const g=addGrid(aLefts[k],16.7,aW,40,
  {type:'value',min:0,max:40,axisLine:{show:false},splitLine:{show:false},axisTick:{show:true,length:1.5,lineStyle:{color:'#888'},customValues:[0,10,30,40]},axisLabel:{fontSize:5.5,color:'#777',margin:3,fontFamily:FONT,customValues:[0,10,30,40],hideOverlap:false,showMinLabel:true,showMaxLabel:true,formatter:v=>lab[v]}},
  {type:'value',min:profileRange[k][0],max:profileRange[k][1],axisLine:{show:false},splitLine:{show:false},axisTick:{show:true,length:2,lineStyle:{color:'#888'},customValues:profileTicks[k]},axisLabel:{rotate:90,fontSize:8,color:'#444',margin:2,fontFamily:FONT,customValues:profileTicks[k],hideOverlap:false,showMinLabel:true,showMaxLabel:true}},
  {show:true,borderColor:'#888',borderWidth:1.5});
 series.push({type:'line',xAxisIndex:g,yAxisIndex:g,showSymbol:false,lineStyle:{color:k==4?'#777':markColors[k],width:1.2},data:profileX.map((x,i)=>[x,profiles[k][i]]),silent:true});
 const rows=[];heats[k].forEach(([n,s])=>{for(let i=0;i<n;i++)rows.push(s);});
 const d=[];rows.forEach((s,r)=>{for(let c=0;c<24;c++){const ch=s[c]||s[s.length-1];d.push([c,r,low[ch]!==undefined?low[ch]:parseInt(ch,36)]);}});
 const h=addGrid(aLefts[k],71,aW,198.3,{type:'category',data:idx(24),show:false},{type:'category',data:idx(rows.length),inverse:true,show:false});
 series.push({type:'heatmap',xAxisIndex:h,yAxisIndex:h,data:d,silent:true,progressive:0});
 const col=markColors[k];
 visualMap.push({type:'continuous',seriesIndex:series.length-1,min:0,max:10,show:true,orient:'horizontal',left:aLefts[k],top:273.3,itemWidth:6,itemHeight:aW,padding:0,text:null,calculable:false,hoverLink:false,inRange:{color:['#000058','#0000e6','#ffffff',hexMix(col,.33),hexMix(col,.66),hexMix(col,.85),col]}});
 R(aLefts[k],71,aW,198.3,null,'#888',1);
 R(aLefts[k],273.3,aW,6,null,'#666',.8);
 T('0',aLefts[k],285,{size:11});T('10',aLefts[k]+aW,285,{size:11});
});
T('Signal density',43,38,{size:10,rot:Math.PI/2});
T('Genes',44.7,173,{size:10,rot:Math.PI/2});

// ---------- Panel b ----------
{
 const bL=475.7,bW=183.3;
 const dg=addGrid(bL,22,bW,46.7,{type:'value',min:0,max:48,show:false},{type:'value',min:0,max:1,show:false});
 series.push({type:'line',xAxisIndex:dg,yAxisIndex:dg,showSymbol:false,connectNulls:false,silent:true,lineStyle:{color:'#555',width:1},data:dendrogram.map(p=>p?p:[null,null])});
 const hg=addGrid(bL,71.7,bW,6.3,{type:'value',min:0,max:48,show:false},{type:'category',data:[0],show:false});
 let off=0;const hd=[];histoneSizes.forEach((n,i)=>{hd.push([off,off+n,0,histoneOrder[i]]);off+=n;});
 const hc=['#e80000','#ff10d0','#f8b020','#0a9a0a','#666666'];
 series.push({type:'custom',xAxisIndex:hg,yAxisIndex:hg,encode:customEnc,silent:true,data:hd,renderItem:(p,api)=>{const a=api.coord([api.value(0),0]),b=api.coord([api.value(1),0]),h=api.size([0,1])[1];return {type:'rect',shape:{x:a[0],y:a[1]-h/2,width:b[0]-a[0],height:h},style:{fill:hc[api.value(3)]}};}});
 const pg=addGrid(bL,79.3,bW,6.7,{type:'value',min:0,max:48,show:false},{type:'category',data:[0],show:false});
 series.push({type:'custom',xAxisIndex:pg,yAxisIndex:pg,encode:customEnc,silent:true,data:pdoOrder.map((v,i)=>[i,i+1,0,pdos.indexOf(v)]),renderItem:(p,api)=>{const a=api.coord([api.value(0),0]),b=api.coord([api.value(1),0]),h=api.size([0,1])[1];return {type:'rect',shape:{x:a[0],y:a[1]-h/2,width:b[0]-a[0],height:h},style:{fill:pdoColors[api.value(3)]}};}});
 const corr=correlation.map(s=>s.replace(/ /g,''));
 const d=[];corr.forEach((s,r)=>{for(let c=0;c<48;c++)d.push([c,r,+s[c]/9]);});
 const mg=addGrid(bL,87.3,bW,182.7,{type:'category',data:idx(48),show:false},{type:'category',data:idx(48),inverse:true,show:false});
 series.push({type:'heatmap',xAxisIndex:mg,yAxisIndex:mg,data:d,silent:true,progressive:0});
 visualMap.push({type:'continuous',seriesIndex:series.length-1,min:0,max:1,show:true,orient:'vertical',left:459,top:161.7,itemWidth:6,itemHeight:33.3,padding:0,text:null,calculable:false,hoverLink:false,inRange:{color:['#ffffff','#8a0a6e']}});
 R(bL,87.3,bW,182.7,null,'#555',1);
 R(459,161.7,6,33.3,null,'#666',.8);
 T('1',469,162,{size:9});T('0',469,195,{size:9});
 T('Pearson',442.7,178,{size:9,rot:Math.PI/2});T('correlation',453,178,{size:9,rot:Math.PI/2});
 T('Histone mark',604,7.7,{size:10,align:'left'});
 ['H3K4me3','H3K27ac','H3K4me1','H3K36me3','H3K27me3'].forEach((m,i)=>{const y=17.3+9.65*i;R(604,y-3.2,7,6.4,hc[i]);T(m,613.5,y,{size:9,align:'left'});});
 T('PDO',665,130,{size:10,align:'left'});
 pdos.forEach((p,i)=>{const y=142+9.6*i;R(664.3,y-3,6.4,6,pdoColors[i],'#bbb',.5);T(p,673,y,{size:9.5,align:'left'});});
}

// ---------- Panel c ----------
{
 const sg=addGrid(179.3,313.3,14.4,142.7,{type:'value',min:0,max:1,show:false},{type:'category',data:stateNames,inverse:true,axisLine:{show:false},axisTick:{show:false},axisLabel:{fontSize:9.6,color:'#222',margin:5.5,fontFamily:FONT,interval:0}});
 series.push({type:'custom',xAxisIndex:sg,yAxisIndex:sg,encode:customEnc,silent:true,data:stateNames.map((s,i)=>[0,1,i,i]),renderItem:(p,api)=>{const a=api.coord([0,api.value(2)]),b=api.coord([1,api.value(2)]),h=api.size([0,1])[1]*.8;return {type:'rect',shape:{x:a[0],y:a[1]-h/2,width:b[0]-a[0],height:h},style:{fill:stateColors[api.value(3)]}};}});
 const d=[];emission.forEach((r,y)=>r.forEach((v,x)=>d.push([x,y,v])));
 const eg=addGrid(199,313.3,89.3,142.7,{type:'category',data:marks,axisLine:{show:false},axisTick:{show:false},axisLabel:{rotate:50,fontSize:10,color:'#222',margin:5,interval:0,fontFamily:FONT}},{type:'category',data:idx(8),inverse:true,show:false});
 series.push({type:'heatmap',xAxisIndex:eg,yAxisIndex:eg,data:d,silent:true,progressive:0});
 visualMap.push({type:'continuous',seriesIndex:series.length-1,min:0,max:1,show:true,orient:'vertical',left:312.3,top:365,itemWidth:11,itemHeight:60,padding:0,text:null,calculable:false,hoverLink:false,inRange:{color:['#ffffff','#0000c8']}});
 R(199,313.3,89.3,142.7,null,'#555',1);
 R(312.3,365,11,60,null,'#666',.8);
 T('Emission',243,305,{size:12});
 T('Relative',317.7,345,{size:9.3});T('enrichment',317.7,355,{size:9.3});
 T('1',329,366,{size:9});T('0',329,425,{size:9});
}

// ---------- Panel d ----------
const radarOrder=[0,7,6,5,4,3,2,1];
const radarOpt={center:[562.3,400],radius:87,shape:'circle',splitNumber:1,startAngle:90,
 indicator:radarOrder.map(i=>({name:radarAxes[i],max:.4,min:0})),axisName:{show:false},
 splitLine:{lineStyle:{color:'#333',width:1}},splitArea:{show:false},axisLine:{lineStyle:{color:'#ccc',type:'dashed',width:1}},axisTick:{show:false},axisLabel:{show:false}};
radarSeries.forEach((v,i)=>series.push({type:'radar',radarIndex:0,symbol:'none',silent:true,lineStyle:{color:pdoColors[i],width:2},data:[{value:radarOrder.map(j=>v[j])}]}));
T('Active TSS',563,303,{size:9.5});
T('Flanking',655,322,{size:9.5});T('Active TSS',655,331.5,{size:9.5});
T('Flanking',681,389,{size:9.5});T('Active',681,399,{size:9.5});T('Enhancers',681,409,{size:9.5});
T('Active',654.7,470,{size:9.5});T('Enhancers',654.7,480,{size:9.5});
T('Weak',562,497,{size:9.5});T('Enhancers',562,507,{size:9.5});
T('Elongation',466.7,476,{size:9.5});T('Repression',444.7,400,{size:9.5});T('Quiescence',469,327,{size:9.5});
T('0.4',481.7,397,{size:6,fill:'#444'});T('0.0',553,397,{size:6,fill:'#444'});
T('PDO',727,357,{size:10,align:'left'});
pdos.forEach((p,i)=>{const y=369+9.64*i;R(726.3,y-3,6.4,6,pdoColors[i],'#bbb',.5);T(p,735.5,y,{size:9.5,align:'left'});});

// ---------- Panels e, f: main tracks ----------
function mainTracks(rows,top,axisY,min,max,ticks,base,ratio){
 const fmt=v=>{const s=String(base+v);return s.slice(0,2)+','+s.slice(2)+(v===ticks[3]?' Kb':'');};
 const g=addGrid(60,top,685,111.7,
  {type:'value',min,max,position:'top',offset:top-axisY,splitLine:{show:false},axisLine:{show:true,onZero:false,lineStyle:{color:'#222',width:1}},axisTick:{show:true,length:2,lineStyle:{color:'#555'},customValues:ticks},axisLabel:{fontSize:10.6,color:'#333',margin:2,fontFamily:FONT,customValues:ticks,formatter:fmt,hideOverlap:false}},
  {type:'category',inverse:true,data:pdos,position:'right',axisLine:{show:false},axisTick:{show:false},axisLabel:{fontSize:10,color:'#222',margin:4,align:'left',interval:0,fontFamily:FONT}});
 series.push({type:'custom',xAxisIndex:g,yAxisIndex:g,encode:customEnc,silent:true,data:pdos.map((p,i)=>[min,max,i]),renderItem:frameRender(ratio)});
 const segs=[];rows.forEach((s,i)=>parseSegs(s,i).forEach(v=>segs.push(v)));
 series.push({type:'custom',xAxisIndex:g,yAxisIndex:g,encode:customEnc,silent:true,data:segs,renderItem:segRender(ratio-.05)});
}
mainTracks(eRows,545.3,530,1.6,193.7,eTicks,88000,.76);
mainTracks(fRows,920,905,29.2,246.3,fTicks,62200,.84);
T('PDO',749,537.7,{size:9.2,align:'left'});T('PDO',749,912.3,{size:9.2,align:'left'});
T('chr2',60,523,{size:10.5,align:'left'});T('chr20',60,897,{size:10.5,align:'left'});

function geneRender(genes,opt){return (p,api)=>{
 const gene=genes[api.value(0)],lane=opt.inset?gene.lane:.5,X=v=>api.coord([Math.max(opt.min,Math.min(opt.max,v)),lane])[0];
 const yy=api.coord([gene.start,lane])[1],kids=[];
 const color=opt.color||'#222';
 kids.push({type:'line',shape:{x1:X(gene.start),y1:yy,x2:X(gene.end),y2:yy},style:{stroke:opt.lineColor||'#444',lineWidth:.8}});
 gene.exons.forEach(e=>{const a=Array.isArray(e)?e:[e,e];if(a[1]<opt.min||a[0]>opt.max)return;const x0=X(a[0]),x1=X(a[1]);kids.push({type:'rect',shape:{x:x0-(a[0]===a[1]?.5:0),y:yy-opt.h/2,width:Math.max(x1-x0,1),height:opt.h},style:{fill:color}});});
 gene.boxes.forEach(b=>{if(opt.inset){if(b[1]<opt.min||b[0]>opt.max)return;const x0=X(b[0]);kids.push({type:'rect',shape:{x:x0,y:yy-opt.h/2,width:1,height:opt.h},style:{fill:color}});return;}
  const x0=X(b[0]),x1=X(b[1]),h=opt.h/2+.5;const tip=b[2]>0?[[x0,yy-h],[x1-2,yy-h],[x1,yy],[x1-2,yy+h],[x0,yy+h]]:b[2]<0?[[x1,yy-h],[x0+2,yy-h],[x0,yy],[x0+2,yy+h],[x1,yy+h]]:[[x0,yy-h],[x1,yy-h],[x1,yy+h],[x0,yy+h]];
  kids.push({type:'polygon',shape:{points:tip},style:{fill:'#707070',stroke:'#333',lineWidth:.7}});});
 if(!opt.inset){const x=X(gene.tss),d=gene.dir;kids.push({type:'polyline',shape:{points:[[x,yy],[x,yy-9],[x+d*6,yy-9]]},style:{stroke:'#333',fill:'none',lineWidth:.8}});kids.push({type:'polyline',shape:{points:[[x+d*4,yy-11],[x+d*6.5,yy-9],[x+d*4,yy-7]]},style:{stroke:'#333',fill:'none',lineWidth:.8}});}
 return {type:'group',children:kids};
};}
function geneGrid(genes,l,t,w,h,min,max,opt){
 const g=addGrid(l,t,w,h,{type:'value',min,max,show:false},{type:'value',min:0,max:1,show:false});
 const ids=idx(genes.length).filter(i=>genes[i].end>min&&genes[i].start<max);
 series.push({type:'custom',xAxisIndex:g,yAxisIndex:g,silent:true,encode:{x:1,y:2},data:ids.map(i=>[i,min,.5]),renderItem:geneRender(genes,Object.assign({min,max},opt))});
}
geneGrid(genesE,60,655,685,30,1.6,193.7,{h:8.5});
geneGrid(genesF,60,1030,685,30,29.2,246.3,{h:8.5});
[['KRCC1',201],['SMYD1',379],['FABP1',500],['THNSL2',694]].forEach(a=>T(a[0],a[1],681.7,{size:9}));
[['OSBPL2',188],['ADRM1',303],['LAMA5',407],['RPS21',560],['RBBP8NL',660.7]].forEach(a=>T(a[0],a[1],1056,{size:9}));

R(480.7,543.3,86,150.7,null,'#666',1);
L(480.7,694,60,710.7,'#555',[3,1.5],.9);L(566.7,694,744.7,710.7,'#555',[3,1.5],.9);
R(287.7,919.3,221.6,151.7,null,'#777',1);
L(287.7,1071,60,1087,'#555',[3,1.5],.9);L(509.3,1071,745,1087,'#555',[3,1.5],.9);

// ---------- Insets ----------
const insetLefts=[60.3,235,409.7,583.7],insetW=161;
function insetRow(opt){
 const {box,h,bases,trackH,labelYs,titleY,stripTop,stripH,geneTop,geneH,min,max,sets,names,rows,geneList,capY,rightYs,genePanel}=opt;
 names.forEach((pdo,k)=>{
  const l=insetLefts[k];
  R(l,box,insetW,h,null,'#777',1.5);
  T('PDO '+pdo,l+insetW/2,titleY,{size:12.5});
  sets[k].forEach((s,ti)=>{
   const vals=s.replace(/ /g,'').split('').map(c=>parseInt(c,36));
   const g=addGrid(l,bases[ti]-trackH,insetW,trackH,{type:'category',boundaryGap:false,data:idx(vals.length),show:false},{type:'value',min:0,max:10,show:false});
   series.push({type:'line',step:(opt.rnaStep&&ti===5)?'middle':false,xAxisIndex:g,yAxisIndex:g,showSymbol:false,silent:true,lineStyle:{color:trackColors[ti],width:.6,opacity:.45},areaStyle:{color:trackColors[ti],opacity:1},data:vals});
  });
  const rowIdx=pdos.indexOf(pdo);
  const sg=addGrid(l,stripTop,insetW,stripH,{type:'value',min,max,show:false},{type:'category',data:[0],show:false});
  series.push({type:'custom',xAxisIndex:sg,yAxisIndex:sg,encode:customEnc,silent:true,data:clip(parseSegs(rows[rowIdx],0),min,max),renderItem:segRender(1)});
  const dark=opt.darkIdx===k;
  geneGrid(geneList,l,geneTop,insetW,geneH,min,max,{inset:true,h:opt.exonH,color:opt.faint&&!dark?'#555':'#111',lineColor:opt.faint&&!dark?'#aaa':'#333'});
  genePanel(l);
  eCaptions[k].forEach((c,i)=>T(c,l+insetW/2-.5,capY[i],{size:12.5,fill:'#222'}));
 });
 trackNames.forEach((n,i)=>T(n,56,labelYs[i],{size:9.3,align:'right'}));
 ['10','10','10','10','10','500'].forEach((t,i)=>T(t,i===5?753:751,rightYs[i],{size:9}));
}
const insetGenesE=genesE.map(g=>Object.assign({lane:.5},g));
insetRow({rnaStep:true,box:710.7,h:130.3,bases:[744.3,755.7,766.7,777.7,788.7,799.7],trackH:11,labelYs:[738.7,750,761,772,783,794.3,805,818],titleY:722,stripTop:801.3,stripH:7.4,geneTop:812,geneH:16,exonH:7,min:113.66,max:148.7,sets:[e11,e18,e22,e24],names:['11','18','22','24'],rows:eRows,geneList:insetGenesE,capY:[849,865],rightYs:[736.7,747.7,758.7,769.7,780.7,791.7],genePanel:l=>T('FABP1',l+54.7,831.7,{size:9})});
insetRow({box:1087.3,h:130,bases:[1120.7,1131.7,1142.7,1153.7,1164.7,1175.7],trackH:15,labelYs:[1114.3,1126.3,1137.3,1148.7,1159.3,1170.3,1181.3,1194],titleY:1098.7,stripTop:1177.7,stripH:7.3,geneTop:1188,geneH:15,exonH:5,min:101.2,max:171.4,sets:[f11,f18,f22,f24],names:['11','18','22','24'],rows:fRows,geneList:genesF,capY:[1225,1239],rightYs:[1113.3,1124,1134.7,1146,1156.7,1168.3],faint:true,darkIdx:1,genePanel:l=>{T('ADRM1',l+38,1192,{size:9});T('LAMA5',l+84.7,1209,{size:9});}});

[['a',5,9],['b',412,8],['c',5,302],['d',412,300],['e',5,527],['f',5,900]].forEach(a=>T(a[0],a[1],a[2],{size:16,bold:true,fill:'#000'}));

const chart=echarts.init(document.getElementById('c'),null,{renderer:'canvas'});
chart.setOption({animation:false,backgroundColor:'#fff',textStyle:{fontFamily:FONT},grid,xAxis,yAxis,radar:radarOpt,visualMap,series,graphic:{elements:gfx}});
</script></body></html>
